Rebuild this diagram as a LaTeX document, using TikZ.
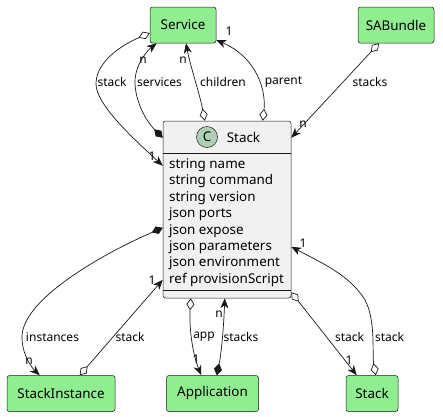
\documentclass[tikz,border=0pt]{standalone}
\usepackage{fontspec}
\setmainfont{Noto Sans}
\usetikzlibrary{arrows.meta}
\definecolor{boxgreen}{HTML}{90EE90}
\definecolor{lineclr}{HTML}{181818}
\definecolor{classbg}{HTML}{F1F1F1}
\definecolor{circbg}{HTML}{ADD1B2}
\begin{document}
\begin{tikzpicture}[x=1pt,y=-1pt,
  gbox/.style={draw=lineclr, line width=0.5pt, fill=boxgreen, rounded corners=2.5pt, minimum height=36pt, inner sep=0pt, font=\fontsize{13.4}{16}\selectfont},
  lbl/.style={font=\fontsize{12}{14}\selectfont, inner sep=0pt},
  edge/.style={draw=lineclr, line width=0.7pt},
  od/.style={edge, {Diamond[open, fill=white, length=12pt, width=8pt]}-{Stealth[length=10pt, width=8pt, inset=3pt]}},
  fd/.style={edge, {Diamond[length=12pt, width=8pt]}-{Stealth[length=10pt, width=8pt, inset=3pt]}}]
\useasboundingbox (0,0) rectangle (443,416);
% nodes
\node[gbox, minimum width=66pt] (svc) at (183,25) {Service};
\node[gbox, minimum width=76pt] (sab) at (396,25) {SABundle};
\node[gbox, minimum width=108pt] (si) at (61,393.5) {StackInstance};
\node[gbox, minimum width=92pt] (app) at (212.5,393.5) {Application};
\node[gbox, minimum width=52pt] (st2) at (372,393.5) {Stack};
\node[draw=lineclr, line width=0.5pt, fill=classbg, rounded corners=2.5pt, minimum width=128pt, minimum height=177pt, inner sep=0pt] (stk) at (227,209.5) {};
\draw[lineclr, line width=0.5pt] ([yshift=-32pt]stk.north west) -- ([yshift=-32pt]stk.north east);
\draw[lineclr, line width=0.5pt] ([yshift=8pt]stk.south west) -- ([yshift=8pt]stk.south east);
\node[circle, draw=lineclr, line width=0.5pt, fill=circbg, minimum size=21pt, inner sep=0pt, font=\fontsize{13.4}{16}\selectfont\bfseries] (circ) at (207,137) {C};
\node[font=\fontsize{13.4}{16}\selectfont, inner sep=0pt] (hdr) at (243.5,137) {Stack};
\node[font=\fontsize{13.4}{16.4}\selectfont, inner sep=0pt, align=left, anchor=north west] (attrs) at (169,158.5) {string name\\string command\\string version\\json ports\\json expose\\json parameters\\json environment\\ref provisionScript};
% edges
\draw[od] ([yshift=-8pt]svc.west) .. controls (115,48) and (96,65) .. (96,84) .. controls (96,105) and (135,140) .. ([yshift=-45pt]stk.north west);
\draw[fd] ([yshift=-17pt]stk.north west) .. controls (145,120) and (135,100) .. (135,82) .. controls (135,64) and (148,50) .. ([xshift=7pt]svc.south west);
\draw[od] ([xshift=42pt]stk.north west) .. controls (200,95) and (190,65) .. ([xshift=3pt]svc.south);
\draw[od] ([xshift=100pt]stk.north west) .. controls (266,92) and (258,58) .. ([yshift=-15pt]svc.east);
\draw[od] ([xshift=-17pt]sab.south) -- ([yshift=-17pt]stk.north east);
\draw[fd] ([yshift=-107pt]stk.north west) .. controls (100,255) and (22,300) .. (22,337) .. controls (22,355) and (32,368) .. ([xshift=33pt]si.north west);
\draw[od] ([xshift=73pt]si.north west) -- ([yshift=-159pt]stk.north west);
\draw[od] ([xshift=28pt]stk.south west) .. controls (189,330) and (193,355) .. ([xshift=35pt]app.north west);
\draw[fd] ([xshift=50.5pt]app.north west) .. controls (222,350) and (224,320) .. ([xshift=62pt]stk.south west);
\draw[od] ([yshift=6pt]stk.south east) -- ([xshift=11pt]st2.north west);
\draw[od] ([xshift=30pt]st2.north west) .. controls (372,355) and (376,320) .. (365,300) .. controls (350,275) and (320,262) .. ([yshift=-126pt]stk.north east);
% labels
\node[lbl] (l1) at (112,82) {stack};
\node[lbl] (l1m) at (152,156) {1};
\node[lbl] (l2) at (159.5,82) {services};
\node[lbl] (l2m) at (143,60) {n};
\node[lbl] (l3) at (223,82) {children};
\node[lbl] (l3m) at (183,60) {n};
\node[lbl] (l4) at (283.5,82) {parent};
\node[lbl] (l4m) at (229,31) {1};
\node[lbl] (l5) at (370,82) {stacks};
\node[lbl] (l5m) at (303,124) {n};
\node[lbl] (l6) at (52.5,337) {instances};
\node[lbl] (l6m) at (29,361) {n};
\node[lbl] (l7) at (130,337) {stack};
\node[lbl] (l7m) at (152,280) {1};
\node[lbl] (l8) at (204,337) {app};
\node[lbl] (l8m) at (196,359) {1};
\node[lbl] (l9) at (241,337) {stacks};
\node[lbl] (l9m) at (219,314) {n};
\node[lbl] (l10) at (349.5,337) {stack};
\node[lbl] (l10m) at (349,360) {1};
\node[lbl] (l11) at (389.5,337) {stack};
\node[lbl] (l11m) at (303,243) {1};
\end{tikzpicture}
\end{document}
